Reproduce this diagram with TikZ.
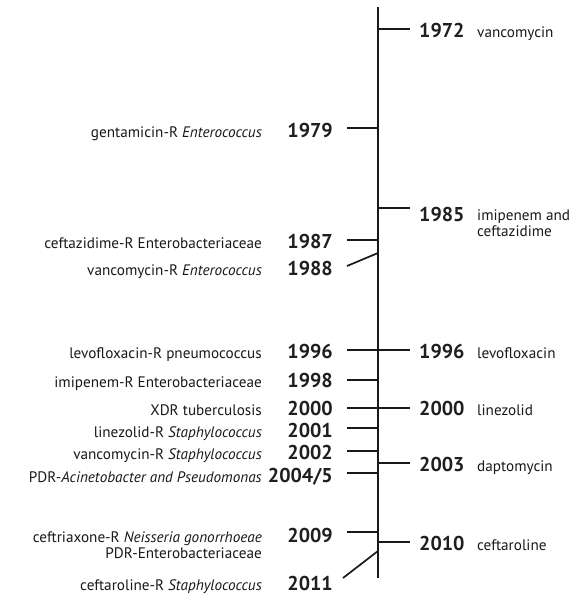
\documentclass[tikz,border=0pt]{standalone}
\usepackage{fontspec}
\setmainfont{PT Sans}
\begin{document}
\begin{tikzpicture}[x=1pt,y=-1pt,
  axisline/.style={line width=1.7pt, black!90},
  tickline/.style={line width=1.7pt, black!90},
  yearlbl/.style={inner sep=0pt, font=\bfseries\fontsize{20}{20}\selectfont, text=black!88},
  namelbl/.style={inner sep=0pt, font=\fontsize{15.2}{17}\selectfont, text=black!90}]
\useasboundingbox[fill=white] (0,0) rectangle (572,603);
% axis
\coordinate (top) at (378,7);
\coordinate (bot) at (378,578);
\draw[axisline] (top) -- (bot);
% ---------- right side (drugs introduced)
\coordinate (ra72) at (378,29);  \coordinate (re72) at (410,29);
\coordinate (ra85) at (378,208); \coordinate (re85) at (410,208);
\coordinate (ra96) at (378,350); \coordinate (re96) at (410,350);
\coordinate (ra00) at (378,408); \coordinate (re00) at (410,408);
\coordinate (ra03) at (378,463); \coordinate (re03) at (410,463);
\coordinate (ra10) at (378,542); \coordinate (re10) at (410,542);
\foreach \k in {72,85,96,00,03,10} \draw[tickline] (ra\k) -- (re\k);
\node[yearlbl, anchor=base west] (ry72) at (419,37) {1972};
\node[namelbl, anchor=base west] (rn72) at (477,37) {vancomycin};
\node[yearlbl, anchor=base west] (ry85) at (419,221) {1985};
\node[namelbl, anchor=base west] (rn85a) at (477,220) {imipenem and};
\node[namelbl, anchor=base west] (rn85b) at (477,236) {ceftazidime};
\node[yearlbl, anchor=base west] (ry96) at (419,358) {1996};
\node[namelbl, anchor=base west] (rn96) at (477,358) {levofloxacin};
\node[yearlbl, anchor=base west] (ry00) at (419,415) {2000};
\node[namelbl, anchor=base west] (rn00) at (477,415) {linezolid};
\node[yearlbl, anchor=base west] (ry03) at (419,471) {2003};
\node[namelbl, anchor=base west] (rn03) at (477,471) {daptomycin};
\node[yearlbl, anchor=base west] (ry10) at (419,550) {2010};
\node[namelbl, anchor=base west] (rn10) at (477,550) {ceftaroline};
% ---------- left side (resistance)
\coordinate (la79) at (378,128); \coordinate (le79) at (347,128);
\coordinate (la87) at (378,240); \coordinate (le87) at (347,240);
\coordinate (la88) at (378,253); \coordinate (le88) at (347,266);
\coordinate (la96) at (378,350); \coordinate (le96) at (347,350);
\coordinate (la98) at (378,380); \coordinate (le98) at (347,380);
\coordinate (la00) at (378,408); \coordinate (le00) at (347,408);
\coordinate (la01) at (378,428); \coordinate (le01) at (347,428);
\coordinate (la02) at (378,451); \coordinate (le02) at (347,451);
\coordinate (la04) at (378,473); \coordinate (le04) at (347,473);
\coordinate (la09) at (378,532); \coordinate (le09) at (347,532);
\coordinate (la11) at (378,551); \coordinate (le11) at (343,578);
\foreach \k in {79,87,88,96,98,00,01,02,04,09,11} \draw[tickline] (la\k) -- (le\k);
\node[yearlbl, anchor=base east] (ly79) at (333,137) {1979};
\node[namelbl, anchor=base east] (ln79) at (262,137) {gentamicin-R \textit{Enterococcus}};
\node[yearlbl, anchor=base east] (ly87) at (333,248) {1987};
\node[namelbl, anchor=base east] (ln87) at (262,248) {ceftazidime-R Enterobacteriaceae};
\node[yearlbl, anchor=base east] (ly88) at (333,275) {1988};
\node[namelbl, anchor=base east] (ln88) at (262,275) {vancomycin-R \textit{Enterococcus}};
\node[yearlbl, anchor=base east] (ly96) at (333,358) {1996};
\node[namelbl, anchor=base east] (ln96) at (262,358) {levofloxacin-R pneumococcus};
\node[yearlbl, anchor=base east] (ly98) at (333,387) {1998};
\node[namelbl, anchor=base east] (ln98) at (262,387) {imipenem-R Enterobacteriaceae};
\node[yearlbl, anchor=base east] (ly00) at (333,415) {2000};
\node[namelbl, anchor=base east] (ln00) at (262,415) {XDR tuberculosis};
\node[yearlbl, anchor=base east] (ly01) at (333,437) {2001};
\node[namelbl, anchor=base east] (ln01) at (262,437) {linezolid-R \textit{Staphylococcus}};
\node[yearlbl, anchor=base east] (ly02) at (333,459) {2002};
\node[namelbl, anchor=base east] (ln02) at (262,459) {vancomycin-R \textit{Staphylococcus}};
\node[yearlbl, anchor=base east] (ly04) at (333,482) {2004/5};
\node[namelbl, anchor=base east] (ln04) at (262,482) {PDR-\textit{Acinetobacter and Pseudomonas}};
\node[yearlbl, anchor=base east] (ly09) at (333,542) {2009};
\node[namelbl, anchor=base east] (ln09a) at (262,542) {ceftriaxone-R \textit{Neisseria gonorrhoeae}};
\node[namelbl, anchor=base east] (ln09b) at (262,558) {PDR-Enterobacteriaceae};
\node[yearlbl, anchor=base east] (ly11) at (333,590) {2011};
\node[namelbl, anchor=base east] (ln11) at (262,590) {ceftaroline-R \textit{Staphylococcus}};
\end{tikzpicture}
\end{document}
